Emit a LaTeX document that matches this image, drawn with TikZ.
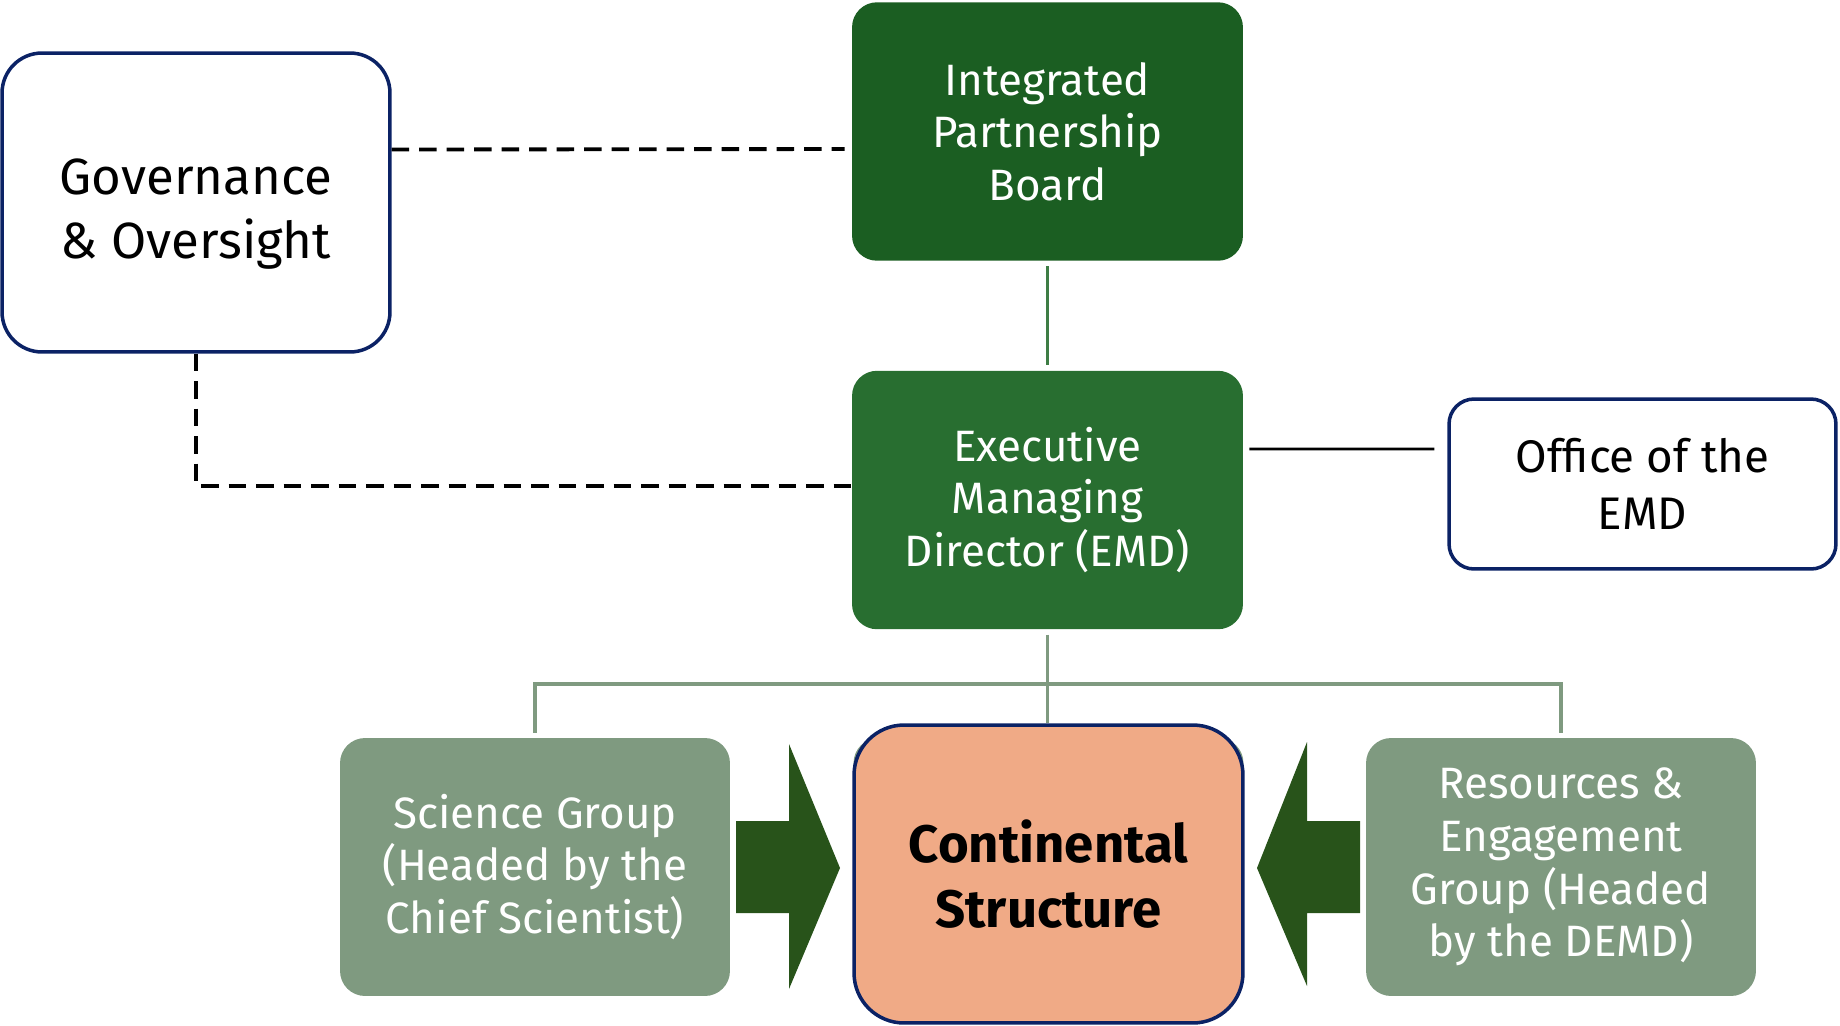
\documentclass[tikz,border=0pt]{standalone}
\usepackage{fontspec}
\setmainfont{Fira Sans}
\usetikzlibrary{positioning}

\definecolor{navy}{HTML}{0B2265}
\definecolor{boardgreen}{HTML}{1B5E22}
\definecolor{emdgreen}{HTML}{286E30}
\definecolor{sage}{HTML}{7F9A80}
\definecolor{peach}{HTML}{F0AA86}
\definecolor{arrowgreen}{HTML}{28531A}
\definecolor{linkgreen}{HTML}{3E7D45}

\tikzset{
  govbox/.style={draw=navy, line width=2pt, fill=white, rounded corners=0.8cm,
    align=center, minimum width=7.76cm, minimum height=5.98cm,
    font=\fontsize{29}{36.6}\selectfont},
  officebox/.style={draw=navy, line width=2pt, fill=white, rounded corners=0.5cm,
    align=center, minimum width=7.74cm, minimum height=3.4cm,
    font=\fontsize{26}{32.6}\selectfont},
  greenbox/.style={rounded corners=0.5cm, text=white, align=center,
    minimum width=7.82cm, minimum height=5.17cm,
    font=\fontsize{25}{30}\selectfont},
  groupbox/.style={fill=sage, rounded corners=0.5cm, text=white, align=center,
    minimum width=7.8cm, minimum height=5.16cm,
    font=\fontsize{25}{30}\selectfont},
  dashlink/.style={black, line width=2.2pt, dash pattern=on 0.35cm off 0.2cm},
  treeline/.style={sage, line width=2.2pt},
}

\begin{document}
\begin{tikzpicture}[x=0.02cm, y=-0.02cm]
  \useasboundingbox (0,0) rectangle (1840,1025);

  % boxes
  \node[govbox] (gov) at (196,202.5) {\rule{0pt}{1.15em}Governance\\ \& Oversight};
  \node[greenbox, fill=boardgreen] (ipb) at (1047.5,131.5) {Integrated\\ Partnership\\ Board};
  \node[greenbox, fill=emdgreen] (emd) at (1047.5,500) {Executive\\ Managing\\ Director (EMD)};
  \node[officebox] (office) at (1642.5,484) {Office of the\\ EMD};
  \node[groupbox] (sci) at (535,867) {Science Group\\ (Headed by the\\ Chief Scientist)};
  \node[groupbox] (res) at (1561,867) {Resources \&\\ Engagement\\ Group (Headed\\ by the DEMD)};
  \node[groupbox] (mid) at (1048.5,867) {};
  \node[draw=navy, line width=2pt, fill=peach, rounded corners=1cm,
    minimum width=7.78cm, minimum height=5.96cm, align=center,
    font=\fontsize{30}{36.6}\selectfont\bfseries] (cont) at (1048.5,874)
    {Continental\\ Structure};

  % block arrows towards the centre
  \fill[arrowgreen] (736,821) -- (789,821) -- (789,744) -- (840,868)
    -- (789,989) -- (789,913) -- (736,913) -- cycle;
  \fill[arrowgreen] (1360,821) -- (1307,821) -- (1307,742) -- (1257,868)
    -- (1307,986) -- (1307,913) -- (1360,913) -- cycle;

  % links
  \draw[dashlink, shorten >=0.14cm] ([yshift=1.06cm]gov.east) -- ([yshift=-0.35cm]ipb.west);
  \draw[dashlink] (gov.south) |- ([yshift=0.28cm]emd.west);
  \draw[linkgreen, line width=2pt, shorten <=0.1cm, shorten >=0.1cm] (ipb.south) -- (emd.north);
  \draw[black, line width=1.5pt, shorten <=0.12cm, shorten >=0.26cm]
    ([yshift=1.02cm]emd.east) -- ([yshift=0.7cm]office.west);

  % tree to the groups
  \coordinate (fork) at (1047.5,684);
  \draw[treeline, shorten <=0.1cm] (emd.south) -- (fork);
  \draw[treeline, shorten <=0.1cm] (sci.north) |- (fork) -| ([yshift=0.1cm]res.north);
  \draw[treeline] (fork) -- (fork |- cont.north);
\end{tikzpicture}
\end{document}
